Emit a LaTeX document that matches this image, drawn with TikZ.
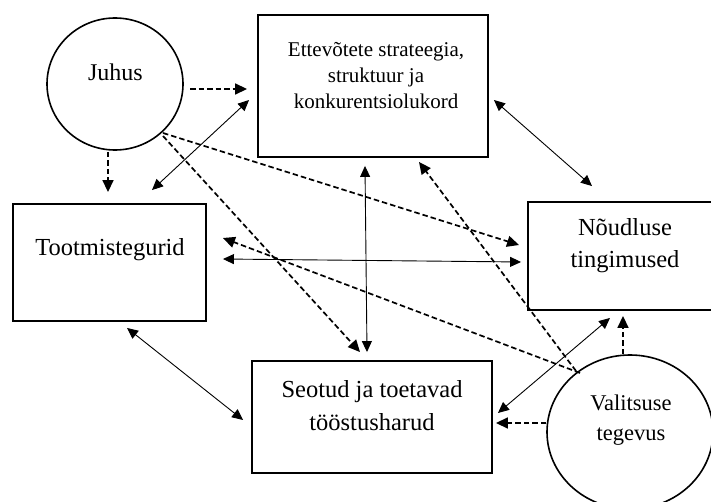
\documentclass[tikz,border=0pt]{standalone}
\usepackage{fontspec}
\setmainfont{Liberation Serif}
\usetikzlibrary{arrows.meta,calc,shapes.geometric}
\tikzset{
  boxnode/.style={draw, line width=1.9bp, inner sep=0pt},
  ovalnode/.style={draw, ellipse, line width=1.6bp, inner sep=0pt},
  lbl/.style={align=center, inner sep=0pt},
  dar/.style={line width=1.7bp, dash pattern=on 5.5bp off 3bp, -{Triangle[length=12bp,width=11bp]}},
  sar/.style={line width=0.9bp, {Triangle[length=11bp,width=10bp]}-{Triangle[length=11bp,width=10bp]}},
}
\begin{document}
\begin{tikzpicture}[x=1bp,y=-1bp]
\useasboundingbox (0,0) rectangle (711,502);
% shapes
\node[ovalnode, minimum width=136bp, minimum height=132bp] (juhus) at (115,84) {};
\node[boxnode, minimum width=230bp, minimum height=142bp] (strat) at (373,86) {};
\node[boxnode, minimum width=193bp, minimum height=117bp] (toot) at (109.5,262.5) {};
\node[boxnode, minimum width=188bp, minimum height=108bp] (noud) at (622,256) {};
\node[boxnode, minimum width=240bp, minimum height=112bp] (seot) at (372,417) {};
\node[ovalnode, minimum width=166bp, minimum height=154bp] (valit) at (630,432) {};
% texts
\node[lbl, font=\fontsize{24bp}{30bp}\selectfont] (tjuhus) at (115.5,72) {Juhus};
\node[lbl, font=\fontsize{21bp}{26bp}\selectfont] (tstrat) at (376,76) {Ettevõtete strateegia,\\struktuur ja\\konkurentsiolukord};
\node[lbl, font=\fontsize{24.5bp}{30bp}\selectfont] (ttoot) at (110,250) {Tootmistegurid};
\node[lbl, font=\fontsize{24.5bp}{32bp}\selectfont] (tnoud) at (625,246) {Nõudluse\\tingimused};
\node[lbl, font=\fontsize{24.5bp}{33bp}\selectfont] (tseot) at (372,405.5) {Seotud ja toetavad\\tööstusharud};
\node[lbl, font=\fontsize{22.5bp}{30bp}\selectfont] (tvalit) at (631,420) {Valitsuse\\tegevus};
% dashed arrows
\draw[dar] ($(juhus.center)+(75,5)$) -- ($(strat.west)+(-10,3)$);
\draw[dar] ($(juhus.center)+(-7,68)$) -- ($(toot.north)+(-1.5,-11)$);
\draw[dar] ($(juhus.center)+(48,49)$) -- ($(noud.west)+(-8,-11)$);
\draw[dar] ($(juhus.center)+(48,52)$) -- ($(seot.north)+(-12,-8)$);
\draw[dar] ($(valit.center)+(-50,-59)$) -- ($(toot.east)+(16,-24.5)$);
\draw[dar] ($(valit.center)+(-54,-61)$) -- ($(strat.south)+(46,4)$);
\draw[dar] ($(valit.north)+(-7,0)$) -- ($(noud.south)+(1,5)$);
\draw[dar] ($(valit.west)+(0,-9)$) -- ($(seot.east)+(3,6)$);
% solid double arrows
\draw[sar] ($(toot.north)+(42.5,-13)$) -- ($(strat.west)+(-8,14)$);
\draw[sar] ($(toot.east)+(16,-3.5)$) -- ($(noud.west)+(-6,6)$);
\draw[sar] ($(strat.south)+(-8,8)$) -- ($(seot.north)+(-5,-8)$);
\draw[sar] ($(strat.east)+(5,14)$) -- ($(noud.north)+(-30,-15)$);
\draw[sar] ($(toot.south)+(17.5,6)$) -- ($(seot.west)+(-8,3)$);
\draw[sar] ($(noud.south)+(-12,7)$) -- ($(seot.east)+(5,-4)$);
\end{tikzpicture}
\end{document}
